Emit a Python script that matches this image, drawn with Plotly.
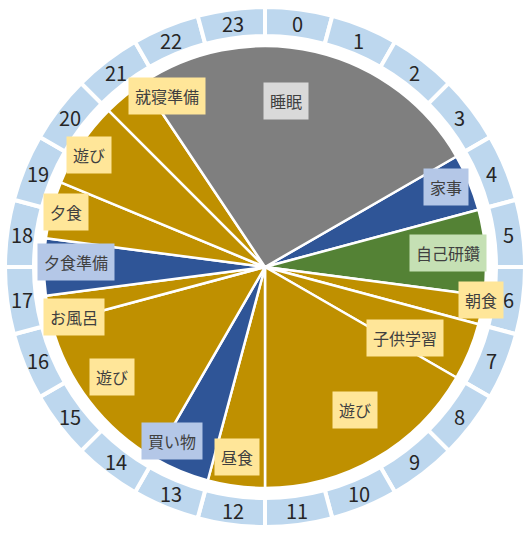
import math
import plotly.graph_objects as go

# Daily schedule, listed clockwise starting at 4:00
ACTIVITIES = ["家事", "自己研鑽", "朝食", "子供学習", "遊び", "昼食", "買い物",
              "遊び", "お風呂", "夕食準備", "夕食", "遊び", "就寝準備", "睡眠"]
HOURS = [1, 1.5, 0.5, 1, 4, 1, 1, 3, 0.5, 1, 1, 1.5, 0.75, 6.25]
KINDS = ["chore", "study", "life", "life", "life", "life", "chore",
         "life", "life", "chore", "life", "life", "life", "sleep"]
START_HOUR = 4

# Clock face
CLOCK_HOURS = [str(h) for h in range(24)]

# Styling
W, H = 529, 534
CX, CY = 265, 267           # centre in pixels (from top-left)
R_RING_OUT, R_RING_IN = 260, 231
R_PIE = 221

SLICE_COLORS = {"chore": "#2F5597", "study": "#548235", "life": "#BF9000", "sleep": "#7F7F7F"}
LABEL_BG = {"chore": "#B4C7E7", "study": "#C5E0B4", "life": "#FFE699", "sleep": "#D9D9D9"}

# Where each activity label sits: radius as fraction of the pie, and an angular nudge (deg)
LABEL_RADIUS = [0.895, 0.83, 0.99, 0.71, 0.765, 0.87, 0.893, 0.853, 0.893, 0.855, 0.934, 0.944, 0.894, 0.757]
LABEL_NUDGE = [-1.3, -0.6, -2.6, 4.4, -2.2, 0.9, 5.6, 1.8, -3.4, 1.5, 0.4, -1.3, 9.5, -5.9]

FONT = "Noto Sans CJK JP"


def domain(r):
    return dict(x=[(CX - r) / W, (CX + r) / W],
                y=[(H - CY - r) / H, (H - CY + r) / H])


def to_paper(angle_deg, r):
    a = math.radians(angle_deg)
    px = CX + r * math.sin(a)
    py = CY - r * math.cos(a)
    return px / W, (H - py) / H


fig = go.Figure()

# Outer hour ring
fig.add_trace(go.Pie(
    labels=CLOCK_HOURS,
    values=[1] * len(CLOCK_HOURS),
    sort=False,
    direction="clockwise",
    rotation=0,
    hole=R_RING_IN / R_RING_OUT,
    domain=domain(R_RING_OUT),
    marker=dict(colors=["#BDD7EE"] * 24, line=dict(color="white", width=4)),
    textinfo="none",
    hoverinfo="label",
    showlegend=False,
))

# Activity pie
fig.add_trace(go.Pie(
    labels=[f"{i}" for i in range(len(ACTIVITIES))],
    values=HOURS,
    hovertext=ACTIVITIES,
    hoverinfo="text+value",
    sort=False,
    direction="clockwise",
    rotation=START_HOUR * 15,
    domain=domain(R_PIE),
    marker=dict(colors=[SLICE_COLORS[k] for k in KINDS], line=dict(color="white", width=2.5)),
    textinfo="none",
    showlegend=False,
))

annotations = []

# Hour numbers centred in each ring segment
ring_mid = (R_RING_OUT + R_RING_IN) / 2
n_hours = len(CLOCK_HOURS)
for i, lab in enumerate(CLOCK_HOURS):
    x, y = to_paper((i + 0.5) * 360 / n_hours, ring_mid)
    annotations.append(dict(
        x=x, y=y, xref="paper", yref="paper", text=lab, showarrow=False,
        font=dict(family=FONT, size=20, color="#262626"),
        xanchor="center", yanchor="middle",
    ))

# Activity labels at each slice's mid-angle
total = sum(HOURS)
start = START_HOUR / 24 * 360
for name, val, kind, rf, nudge in zip(ACTIVITIES, HOURS, KINDS, LABEL_RADIUS, LABEL_NUDGE):
    span = val / total * 360
    x, y = to_paper(start + span / 2 + nudge, rf * R_PIE)
    start += span
    annotations.append(dict(
        x=x, y=y, xref="paper", yref="paper",
        text=name, showarrow=False,
        font=dict(family=FONT, size=16, color="#404040"),
        bgcolor=LABEL_BG[kind], borderpad=6,
        xanchor="center", yanchor="middle",
    ))

fig.update_layout(
    width=W, height=H,
    margin=dict(l=0, r=0, t=0, b=0),
    paper_bgcolor="white",
    plot_bgcolor="white",
    annotations=annotations,
)

fig.write_html("out.html")
